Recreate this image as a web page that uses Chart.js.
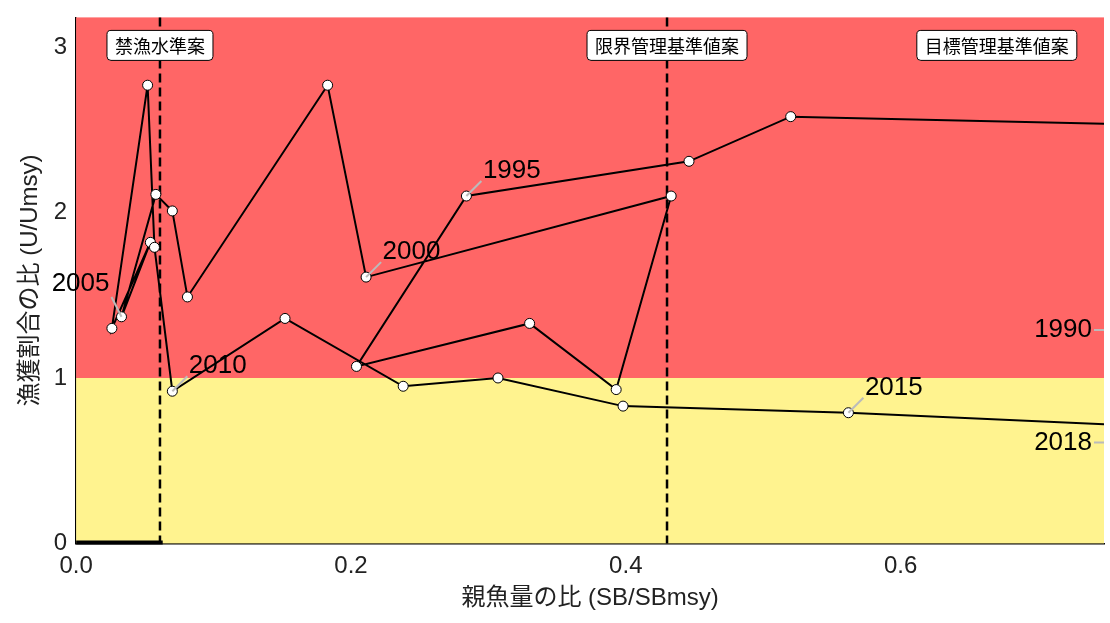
<!DOCTYPE html>
<html lang="ja">
<head>
<meta charset="UTF-8">
<title>Kobe plot</title>
<script src="https://cdn.jsdelivr.net/npm/chart.js"></script>
<style>
  body { margin: 0; background: #fff; }
  #wrap { width: 1110px; height: 623px; }
</style>
</head>
<body>
<div id="wrap"><canvas id="kobe"></canvas></div>
<script>
// 年ごとの親魚量の比と漁獲割合の比
var years = [1990,1991,1992,1993,1994,1995,1996,1997,1998,1999,2000,2001,2002,2003,2004,
             2005,2006,2007,2008,2009,2010,2011,2012,2013,2014,2015,2016,2017,2018];
var sbRatio = [1.20,1.10,0.95,0.520,0.446,0.284,0.204,0.330,0.393,0.433,0.211,0.183,0.081,0.070,0.058,
               0.033,0.054,0.026,0.052,0.057,0.070,0.152,0.238,0.307,0.398,0.562,0.80,0.90,1.00];
var uRatio = [1.29,2.00,2.50,2.58,2.31,2.10,1.07,1.33,0.93,2.10,1.61,2.77,1.49,2.01,2.11,
              1.37,1.82,1.30,2.77,1.79,0.92,1.36,0.95,1.00,0.83,0.79,0.70,0.65,0.61];
var labelYears = [1990,1995,2000,2005,2010,2015,2018];
var refNames = ["禁漁水準案","限界管理基準値案","目標管理基準値案"];
var refValues = [0.061,0.43,0.67];
var xTicks = [0,0.2,0.4,0.6];

var points = years.map(function (y, i) { return {x: sbRatio[i], y: uRatio[i]}; });

var font = "'Liberation Sans', 'Noto Sans CJK JP', sans-serif";

var zones = {
    id: 'zones',
    beforeDatasetsDraw: function (chart) {
        var c = chart.ctx, a = chart.chartArea, x = chart.scales.x, y = chart.scales.y;
        var y1 = y.getPixelForValue(1);
        c.save();
        c.fillStyle = '#FF6666';
        c.fillRect(a.left, a.top, a.right - a.left, y1 - a.top);
        c.fillStyle = '#FFF38F';
        c.fillRect(a.left, y1, a.right - a.left, a.bottom - y1);
        // 縦の基準線
        c.strokeStyle = '#000';
        c.lineWidth = 2.5;
        c.setLineDash([9, 5]);
        refValues.slice(0, 2).forEach(function (v) {
            var px = x.getPixelForValue(v);
            c.beginPath(); c.moveTo(px, a.top); c.lineTo(px, a.bottom); c.stroke();
        });
        c.setLineDash([]);
        c.lineWidth = 4;
        c.beginPath();
        c.moveTo(a.left, y.getPixelForValue(0) - 1);
        c.lineTo(x.getPixelForValue(0.063), y.getPixelForValue(0) - 1);
        c.stroke();
        c.restore();
    },
    afterDatasetsDraw: function (chart) {
        var c = chart.ctx, a = chart.chartArea, x = chart.scales.x, y = chart.scales.y;
        c.save();
        // 年ラベル
        var offs = {1990:[-70,0],1995:[30,-25],2000:[30,-25],2005:[-20,-33],2010:[30,-25],2015:[30,-25],2018:[-70,0]};
        c.font = '26px ' + font;
        c.textBaseline = 'middle';
        labelYears.forEach(function (yr) {
            var i = years.indexOf(yr);
            var px = Math.min(x.getPixelForValue(sbRatio[i]), a.right);
            var py = y.getPixelForValue(uRatio[i]);
            var o = offs[yr];
            c.strokeStyle = '#bbbbbb';
            c.lineWidth = 2;
            c.beginPath();
            c.moveTo(px, py);
            c.lineTo(px + (o[0] < 0 ? -10 : o[0] * 0.5), py + o[1] * 0.6);
            c.stroke();
            c.fillStyle = '#000';
            c.textAlign = o[0] < 0 ? 'right' : 'left';
            c.fillText(String(yr), px + (o[0] < 0 ? -12 : o[0] * 0.55), py + o[1]);
        });
        // 基準値ラベル
        c.font = "18px 'Noto Sans CJK JP', sans-serif";
        c.textAlign = 'center';
        refNames.forEach(function (name, i) {
            var px = x.getPixelForValue(refValues[i]);
            var w = c.measureText(name).width + 16;
            var top = a.top + 13, h = 30;
            c.fillStyle = '#fff';
            c.strokeStyle = '#000';
            c.lineWidth = 1;
            c.beginPath();
            c.roundRect(px - w / 2, top, w, h, 4);
            c.fill(); c.stroke();
            c.fillStyle = '#000';
            c.fillText(name, px, top + h / 2 + 1);
        });
        c.restore();
    }
};

new Chart(document.getElementById('kobe'), {
    type: 'scatter',
    data: {
        datasets: [{
            data: points,
            showLine: true,
            borderColor: '#000',
            borderWidth: 2,
            pointBackgroundColor: '#fff',
            pointBorderColor: '#000',
            pointBorderWidth: 1,
            pointRadius: 5
        }]
    },
    options: {
        responsive: true,
        maintainAspectRatio: false,
        animation: false,
        layout: { padding: { top: 1, right: 0, left: 12, bottom: 6 } },
        plugins: { legend: { display: false }, tooltip: { enabled: false } },
        scales: {
            x: {
                type: 'linear', min: 0, max: 0.748,
                afterBuildTicks: function (s) { s.ticks = xTicks.map(function (v) { return {value: v}; }); },
                grid: { display: false, drawTicks: true, tickLength: 6, tickColor: '#333' },
                border: { color: '#000', width: 1.5 },
                ticks: { color: '#222', font: { size: 24, family: font }, callback: function (v) { return v.toFixed(1); } },
                title: { display: true, text: '親魚量の比 (SB/SBmsy)', color: '#222', font: { size: 24, family: font }, padding: { top: 0 } }
            },
            y: {
                type: 'linear', min: 0, max: 3.18,
                afterBuildTicks: function (s) { s.ticks = [0,1,2,3].map(function (v) { return {value: v}; }); },
                grid: { display: false, drawTicks: true, tickLength: 6, tickColor: '#333' },
                border: { color: '#000', width: 1.5 },
                ticks: { color: '#222', font: { size: 24, family: font } },
                title: { display: true, text: '漁獲割合の比 (U/Umsy)', color: '#222', font: { size: 24, family: font }, padding: { bottom: 6 } }
            }
        }
    },
    plugins: [zones]
});
</script>
</body>
</html>
